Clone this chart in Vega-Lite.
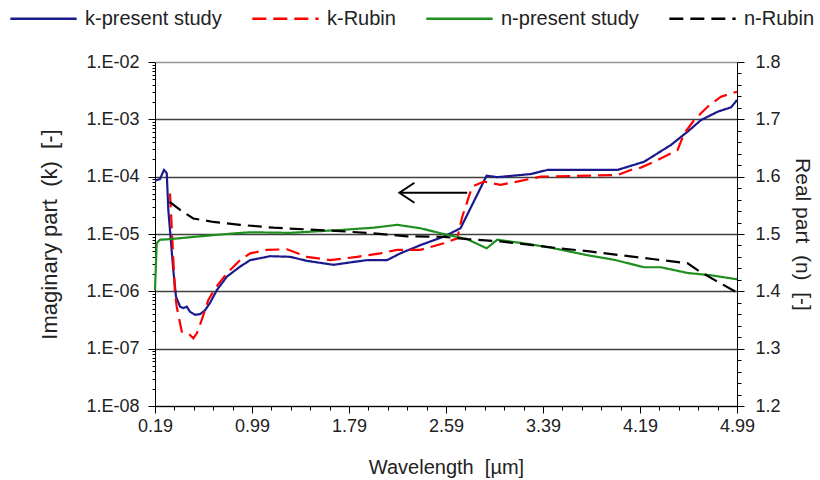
{
  "$schema": "https://vega.github.io/schema/vega-lite/v6.json",
  "width": 582,
  "height": 344,
  "autosize": "none",
  "padding": {"left": 155, "top": 62, "right": 83, "bottom": 74},
  "config": {
    "view": {"stroke": null},
    "font": "Liberation Sans",
    "axis": {"labelColor": "#222", "titleColor": "#222", "titleFontWeight": "normal", "domainColor": "#000", "tickColor": "#000", "labelOverlap": false, "labelBound": false, "labelFlush": false}
  },
  "datasets": {
    "kdata": [
      {"series": "k-present study", "wl": 0.190, "k": 8.5e-5},
      {"series": "k-present study", "wl": 0.231, "k": 9.1e-5},
      {"series": "k-present study", "wl": 0.264, "k": 1.31e-4},
      {"series": "k-present study", "wl": 0.287, "k": 1.15e-4},
      {"series": "k-present study", "wl": 0.300, "k": 2.6e-5},
      {"series": "k-present study", "wl": 0.341, "k": 2.35e-6},
      {"series": "k-present study", "wl": 0.363, "k": 8.1e-7},
      {"series": "k-present study", "wl": 0.397, "k": 5.4e-7},
      {"series": "k-present study", "wl": 0.424, "k": 5.1e-7},
      {"series": "k-present study", "wl": 0.452, "k": 5.4e-7},
      {"series": "k-present study", "wl": 0.479, "k": 4.4e-7},
      {"series": "k-present study", "wl": 0.520, "k": 3.9e-7},
      {"series": "k-present study", "wl": 0.562, "k": 4.0e-7},
      {"series": "k-present study", "wl": 0.603, "k": 4.7e-7},
      {"series": "k-present study", "wl": 0.644, "k": 6.3e-7},
      {"series": "k-present study", "wl": 0.700, "k": 1.05e-6},
      {"series": "k-present study", "wl": 0.782, "k": 1.8e-6},
      {"series": "k-present study", "wl": 0.892, "k": 2.7e-6},
      {"series": "k-present study", "wl": 0.975, "k": 3.5e-6},
      {"series": "k-present study", "wl": 1.140, "k": 4.1e-6},
      {"series": "k-present study", "wl": 1.305, "k": 4.0e-6},
      {"series": "k-present study", "wl": 1.443, "k": 3.4e-6},
      {"series": "k-present study", "wl": 1.663, "k": 2.9e-6},
      {"series": "k-present study", "wl": 1.801, "k": 3.2e-6},
      {"series": "k-present study", "wl": 1.939, "k": 3.5e-6},
      {"series": "k-present study", "wl": 2.104, "k": 3.5e-6},
      {"series": "k-present study", "wl": 2.214, "k": 4.6e-6},
      {"series": "k-present study", "wl": 2.379, "k": 6.4e-6},
      {"series": "k-present study", "wl": 2.572, "k": 9.0e-6},
      {"series": "k-present study", "wl": 2.710, "k": 1.26e-5},
      {"series": "k-present study", "wl": 2.925, "k": 1.04e-4},
      {"series": "k-present study", "wl": 3.013, "k": 9.8e-5},
      {"series": "k-present study", "wl": 3.288, "k": 1.11e-4},
      {"series": "k-present study", "wl": 3.426, "k": 1.31e-4},
      {"series": "k-present study", "wl": 4.004, "k": 1.31e-4},
      {"series": "k-present study", "wl": 4.224, "k": 1.82e-4},
      {"series": "k-present study", "wl": 4.445, "k": 3.57e-4},
      {"series": "k-present study", "wl": 4.583, "k": 6.1e-4},
      {"series": "k-present study", "wl": 4.693, "k": 9.7e-4},
      {"series": "k-present study", "wl": 4.831, "k": 1.36e-3},
      {"series": "k-present study", "wl": 4.941, "k": 1.62e-3},
      {"series": "k-present study", "wl": 4.990, "k": 2.17e-3},
      {"series": "k-Rubin", "wl": 0.314, "k": 5.1e-5},
      {"series": "k-Rubin", "wl": 0.355, "k": 9.2e-7},
      {"series": "k-Rubin", "wl": 0.369, "k": 5.4e-7},
      {"series": "k-Rubin", "wl": 0.391, "k": 3.2e-7},
      {"series": "k-Rubin", "wl": 0.411, "k": 1.98e-7},
      {"series": "k-Rubin", "wl": 0.465, "k": 1.85e-7},
      {"series": "k-Rubin", "wl": 0.506, "k": 1.52e-7},
      {"series": "k-Rubin", "wl": 0.535, "k": 1.85e-7},
      {"series": "k-Rubin", "wl": 0.576, "k": 3.2e-7},
      {"series": "k-Rubin", "wl": 0.630, "k": 7.1e-7},
      {"series": "k-Rubin", "wl": 0.686, "k": 1.13e-6},
      {"series": "k-Rubin", "wl": 0.782, "k": 2.06e-6},
      {"series": "k-Rubin", "wl": 0.892, "k": 3.5e-6},
      {"series": "k-Rubin", "wl": 0.975, "k": 4.6e-6},
      {"series": "k-Rubin", "wl": 1.113, "k": 5.3e-6},
      {"series": "k-Rubin", "wl": 1.278, "k": 5.4e-6},
      {"series": "k-Rubin", "wl": 1.443, "k": 4.0e-6},
      {"series": "k-Rubin", "wl": 1.636, "k": 3.5e-6},
      {"series": "k-Rubin", "wl": 1.856, "k": 4.0e-6},
      {"series": "k-Rubin", "wl": 2.049, "k": 4.6e-6},
      {"series": "k-Rubin", "wl": 2.187, "k": 5.3e-6},
      {"series": "k-Rubin", "wl": 2.379, "k": 5.3e-6},
      {"series": "k-Rubin", "wl": 2.572, "k": 6.9e-6},
      {"series": "k-Rubin", "wl": 2.683, "k": 8.4e-6},
      {"series": "k-Rubin", "wl": 2.724, "k": 2.0e-5},
      {"series": "k-Rubin", "wl": 2.806, "k": 6.7e-5},
      {"series": "k-Rubin", "wl": 2.902, "k": 8.2e-5},
      {"series": "k-Rubin", "wl": 3.040, "k": 7.2e-5},
      {"series": "k-Rubin", "wl": 3.178, "k": 8.2e-5},
      {"series": "k-Rubin", "wl": 3.371, "k": 1.0e-4},
      {"series": "k-Rubin", "wl": 4.004, "k": 1.07e-4},
      {"series": "k-Rubin", "wl": 4.114, "k": 1.31e-4},
      {"series": "k-Rubin", "wl": 4.197, "k": 1.44e-4},
      {"series": "k-Rubin", "wl": 4.335, "k": 1.95e-4},
      {"series": "k-Rubin", "wl": 4.500, "k": 2.92e-4},
      {"series": "k-Rubin", "wl": 4.555, "k": 5.7e-4},
      {"series": "k-Rubin", "wl": 4.637, "k": 9.7e-4},
      {"series": "k-Rubin", "wl": 4.748, "k": 1.66e-3},
      {"series": "k-Rubin", "wl": 4.858, "k": 2.48e-3},
      {"series": "k-Rubin", "wl": 4.990, "k": 3.03e-3}
    ],
    "ndata": [
      {"series": "n-present study", "wl": 0.190, "n": 1.402},
      {"series": "n-present study", "wl": 0.204, "n": 1.484},
      {"series": "n-present study", "wl": 0.231, "n": 1.490},
      {"series": "n-present study", "wl": 0.314, "n": 1.491},
      {"series": "n-present study", "wl": 0.562, "n": 1.496},
      {"series": "n-present study", "wl": 0.837, "n": 1.501},
      {"series": "n-present study", "wl": 0.975, "n": 1.503},
      {"series": "n-present study", "wl": 1.305, "n": 1.502},
      {"series": "n-present study", "wl": 1.718, "n": 1.507},
      {"series": "n-present study", "wl": 1.994, "n": 1.511},
      {"series": "n-present study", "wl": 2.187, "n": 1.516},
      {"series": "n-present study", "wl": 2.379, "n": 1.510},
      {"series": "n-present study", "wl": 2.572, "n": 1.500},
      {"series": "n-present study", "wl": 2.765, "n": 1.491},
      {"series": "n-present study", "wl": 2.925, "n": 1.475},
      {"series": "n-present study", "wl": 3.013, "n": 1.490},
      {"series": "n-present study", "wl": 3.288, "n": 1.482},
      {"series": "n-present study", "wl": 3.481, "n": 1.475},
      {"series": "n-present study", "wl": 3.757, "n": 1.463},
      {"series": "n-present study", "wl": 3.977, "n": 1.455},
      {"series": "n-present study", "wl": 4.224, "n": 1.442},
      {"series": "n-present study", "wl": 4.362, "n": 1.442},
      {"series": "n-present study", "wl": 4.583, "n": 1.432},
      {"series": "n-present study", "wl": 4.775, "n": 1.428},
      {"series": "n-present study", "wl": 4.990, "n": 1.421},
      {"series": "n-Rubin", "wl": 0.310, "n": 1.556},
      {"series": "n-Rubin", "wl": 0.397, "n": 1.542},
      {"series": "n-Rubin", "wl": 0.506, "n": 1.527},
      {"series": "n-Rubin", "wl": 0.672, "n": 1.521},
      {"series": "n-Rubin", "wl": 0.892, "n": 1.516},
      {"series": "n-Rubin", "wl": 1.167, "n": 1.511},
      {"series": "n-Rubin", "wl": 1.443, "n": 1.508},
      {"series": "n-Rubin", "wl": 1.718, "n": 1.505},
      {"series": "n-Rubin", "wl": 1.994, "n": 1.501},
      {"series": "n-Rubin", "wl": 2.270, "n": 1.496},
      {"series": "n-Rubin", "wl": 2.572, "n": 1.495},
      {"series": "n-Rubin", "wl": 2.765, "n": 1.491},
      {"series": "n-Rubin", "wl": 3.040, "n": 1.487},
      {"series": "n-Rubin", "wl": 3.288, "n": 1.481},
      {"series": "n-Rubin", "wl": 3.481, "n": 1.476},
      {"series": "n-Rubin", "wl": 3.757, "n": 1.470},
      {"series": "n-Rubin", "wl": 4.032, "n": 1.463},
      {"series": "n-Rubin", "wl": 4.307, "n": 1.456},
      {"series": "n-Rubin", "wl": 4.583, "n": 1.449},
      {"series": "n-Rubin", "wl": 4.665, "n": 1.437},
      {"series": "n-Rubin", "wl": 4.803, "n": 1.420},
      {"series": "n-Rubin", "wl": 4.990, "n": 1.398}
    ],
    "arrow": [
      {"wl": 2.206, "k": 5.25e-5},
      {"wl": 2.765, "k": 5.25e-5}
    ],
    "arrowhead": [
      {"wl": 2.206, "k": 5.25e-5}
    ]
  },
  "encoding": {
    "x": {
      "field": "wl", "type": "quantitative",
      "scale": {"domain": [0.19, 4.99], "nice": false, "zero": false},
      "axis": {
        "title": "Wavelength\u00a0 [µm]",
        "grid": false,
        "values": [0.19,0.35,0.51,0.67,0.83,0.99,1.15,1.31,1.47,1.63,1.79,1.95,2.11,2.27,2.43,2.59,2.75,2.91,3.07,3.23,3.39,3.55,3.71,3.87,4.03,4.19,4.35,4.51,4.67,4.83,4.99],
        "labelExpr": "abs((datum.value-0.19)/0.8 - round((datum.value-0.19)/0.8)) < 0.01 ? format(datum.value, '.2f') : ''",
        "tickSize": {"condition": {"test": "abs((datum.value-0.19)/0.8 - round((datum.value-0.19)/0.8)) < 0.01", "value": 7}, "value": 4},
        "labelFontSize": 18,
        "titleFontSize": 20,
        "labelPadding": 4,
        "titlePadding": 22
      }
    }
  },
  "layer": [
    {
      "encoding": {
        "y": {
          "field": "k", "type": "quantitative",
          "scale": {"type": "log", "domain": [1e-8, 1e-2], "nice": false},
          "axis": {
            "title": "Imaginary part\u00a0 (k)\u00a0 [-]",
            "values": [1e-8,2e-8,3e-8,4e-8,5e-8,6e-8,7e-8,8e-8,9e-8,1e-7,2e-7,3e-7,4e-7,5e-7,6e-7,7e-7,8e-7,9e-7,1e-6,2e-6,3e-6,4e-6,5e-6,6e-6,7e-6,8e-6,9e-6,1e-5,2e-5,3e-5,4e-5,5e-5,6e-5,7e-5,8e-5,9e-5,1e-4,2e-4,3e-4,4e-4,5e-4,6e-4,7e-4,8e-4,9e-4,1e-3,2e-3,3e-3,4e-3,5e-3,6e-3,7e-3,8e-3,9e-3,1e-2],
            "labelExpr": "abs(log(datum.value)/LN10 - round(log(datum.value)/LN10)) < 0.01 ? '1.E-0' + (-round(log(datum.value)/LN10)) : ''",
            "tickSize": {"condition": {"test": "abs(log(datum.value)/LN10 - round(log(datum.value)/LN10)) < 0.01", "value": 7}, "value": 3},
            "grid": true,
            "gridColor": {"condition": {"test": "datum.value > 0.005", "value": "#999999"}, "value": "#404040"},
            "gridOpacity": {"condition": {"test": "abs(log(datum.value)/LN10 - round(log(datum.value)/LN10)) < 0.01", "value": 1}, "value": 0},
            "gridWidth": 1.3,
            "labelFontSize": 18,
            "titleFontSize": 22,
            "labelPadding": 9,
            "titlePadding": 24
          }
        }
      },
      "layer": [
        {
          "data": {"name": "kdata"},
          "mark": {"type": "line", "strokeWidth": 2.2},
          "encoding": {
            "color": {
              "field": "series", "type": "nominal",
              "scale": {"domain": ["k-present study", "k-Rubin", "n-present study", "n-Rubin"], "range": ["#1a1a8c", "#ff0000", "#1f8f1f", "#000000"]},
              "legend": {
                "title": null, "orient": "none", "legendX": -146, "legendY": -78,
                "direction": "horizontal", "columns": 4, "columnPadding": 25,
                "symbolType": "stroke", "symbolSize": 4400, "symbolStrokeWidth": 2.5,
                "labelFontSize": 20, "labelOffset": 7, "labelColor": "#222"
              }
            },
            "strokeDash": {
              "field": "series", "type": "nominal",
              "scale": {"domain": ["k-present study", "k-Rubin", "n-present study", "n-Rubin"], "range": [[1, 0], [14, 7], [1, 0], [14, 7]]},
              "legend": {
                "title": null, "orient": "none", "legendX": -146, "legendY": -78,
                "direction": "horizontal", "columns": 4, "columnPadding": 25,
                "symbolType": "stroke", "symbolSize": 4400, "symbolStrokeWidth": 2.5,
                "labelFontSize": 20, "labelOffset": 7, "labelColor": "#222"
              }
            }
          }
        },
        {
          "data": {"name": "arrow"},
          "mark": {"type": "line", "color": "#000000", "strokeWidth": 2},
          "encoding": {}
        },
        {
          "data": {"name": "arrowhead"},
          "mark": {"type": "point", "shape": "M 1.875 -1.25 L 0 0 L 1.875 1.25", "size": 256, "filled": false, "stroke": "#000000", "strokeWidth": 2, "opacity": 1},
          "encoding": {}
        }
      ]
    },
    {
      "data": {"name": "ndata"},
      "mark": {"type": "line", "strokeWidth": 2.2},
      "encoding": {
        "y": {
          "field": "n", "type": "quantitative",
          "scale": {"domain": [1.2, 1.8], "nice": false, "zero": false},
          "axis": {
            "orient": "right",
            "title": "Real part\u00a0 (n)\u00a0 [-]",
            "grid": false,
            "values": [1.2,1.22,1.24,1.26,1.28,1.3,1.32,1.34,1.36,1.38,1.4,1.42,1.44,1.46,1.48,1.5,1.52,1.54,1.56,1.58,1.6,1.62,1.64,1.66,1.68,1.7,1.72,1.74,1.76,1.78,1.8],
            "labelExpr": "abs(datum.value*10 - round(datum.value*10)) < 0.01 ? format(datum.value, '.1f') : ''",
            "tickSize": {"condition": {"test": "abs(datum.value*10 - round(datum.value*10)) < 0.01", "value": 7}, "value": 4},
            "labelFontSize": 18,
            "titleFontSize": 21,
            "labelPadding": 11,
            "titlePadding": 11
          }
        },
        "color": {"field": "series", "type": "nominal"},
        "strokeDash": {"field": "series", "type": "nominal"}
      }
    }
  ],
  "resolve": {"scale": {"y": "independent"}}
}
